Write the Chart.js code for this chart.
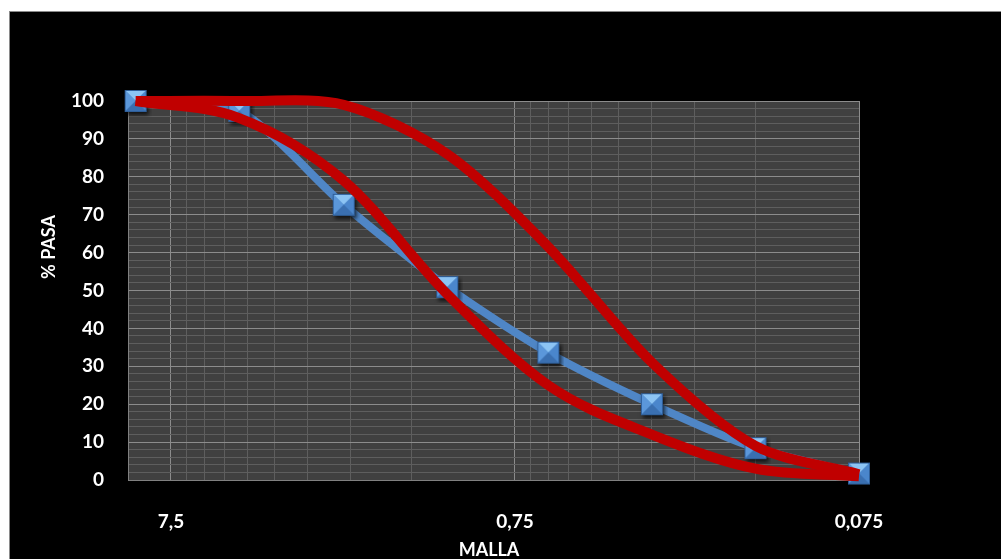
<!DOCTYPE html>
<html>
<head>
<meta charset="utf-8">
<script src="https://cdn.jsdelivr.net/npm/chart.js@4"></script>
<style>
  html, body { margin: 0; padding: 0; background: #fff; }
  #box {
    position: absolute; left: 9px; top: 11px; width: 992px; height: 548px;
    background: #000; border-top: 1px solid #8a8a8a; border-left: 1px solid #8a8a8a;
  }
</style>
</head>
<body>
<div id="box"><canvas id="granulometria" width="992" height="548"></canvas></div>
<script>
// Tamices (mm) y porcentajes que pasan
const mallas = [9.5, 4.75, 2.36, 1.18, 0.6, 0.3, 0.15, 0.075];
const pasa = [100, 97.4, 72.6, 50.9, 33.6, 20.0, 8.4, 1.7];
const limiteSuperior = [100, 100, 99, 86, 61.5, 31, 9, 1.5];
const limiteInferior = [100, 95.5, 79, 49, 25, 12, 3, 1];

// Eje X logarítmico (invertido)
const xMin = 0.075;
const xMax = 10;
const xMajorTicks = [7.5, 0.75, 0.075];
const xTickLabels = ['7,5', '0,75', '0,075'];

const yMin = 0;
const yMax = 100;

const font = 'Lato, "Open Sans", sans-serif';

function isMajorX(v) {
    return xMajorTicks.findIndex(m => Math.abs(v - m) < m * 1e-6);
}

// líneas de la grilla: múltiplos de cada mayor
function xGridValues() {
    const vals = [];
    const bases = xMajorTicks.slice().sort((a, b) => a - b);
    for (const b of bases) {
        for (let k = 1; k <= 9; k++) {
            const v = +(b * k).toFixed(6);
            if (v >= xMin && v <= xMax) vals.push(v);
        }
    }
    return vals;
}

// marcador tipo pirámide
function makeMarker(s) {
    const pad = 5;
    const c = document.createElement('canvas');
    c.width = s + pad * 2; c.height = s + pad * 2;
    const g = c.getContext('2d');
    g.save();
    g.shadowColor = 'rgba(0,0,0,0.7)';
    g.shadowBlur = 4; g.shadowOffsetX = 2; g.shadowOffsetY = 3;
    g.fillStyle = '#3d74b8';
    g.fillRect(pad, pad, s, s);
    g.restore();
    const x0 = pad, y0 = pad, x1 = pad + s, y1 = pad + s, cx = pad + s / 2, cy = pad + s / 2;
    const tri = (pts, col) => {
        g.beginPath(); g.moveTo(pts[0], pts[1]); g.lineTo(pts[2], pts[3]); g.lineTo(cx, cy); g.closePath();
        g.fillStyle = col; g.fill();
    };
    tri([x0, y0, x1, y0], '#8cc4f4');
    tri([x0, y0, x0, y1], '#5b97da');
    tri([x1, y0, x1, y1], '#4a86cc');
    tri([x0, y1, x1, y1], '#3a6fb0');
    g.strokeStyle = '#2f5f9a'; g.lineWidth = 1;
    g.strokeRect(x0 + 0.5, y0 + 0.5, s - 1, s - 1);
    return c;
}

const marker = makeMarker(22);

const plotBackground = {
    id: 'plotBackground',
    beforeDraw(chart) {
        const { ctx, chartArea: a } = chart;
        ctx.save();
        ctx.fillStyle = '#404040';
        ctx.fillRect(a.left, a.top, a.right - a.left, a.bottom - a.top);
        ctx.restore();
    }
};

const axisTitles = {
    id: 'axisTitles',
    afterDraw(chart) {
        const ctx = chart.ctx;
        ctx.save();
        ctx.fillStyle = '#ffffff';
        ctx.font = 'bold 18px ' + font;
        ctx.textAlign = 'center';
        ctx.textBaseline = 'middle';
        ctx.fillText('MALLA', 479, 538);
        ctx.translate(39, 235);
        ctx.rotate(-Math.PI / 2);
        ctx.fillText('% PASA', 0, 0);
        ctx.restore();
    }
};

const toPoints = ys => mallas.map((m, i) => ({ x: m, y: ys[i] }));

new Chart(document.getElementById('granulometria'), {
    type: 'line',
    data: {
        datasets: [
            {
                label: 'Límite superior',
                data: toPoints(limiteSuperior),
                borderColor: '#c00000',
                borderWidth: 10,
                pointRadius: 0,
                tension: 0.3,
                capBezierPoints: false,
                clip: false,
                order: 0
            },
            {
                label: 'Límite inferior',
                data: toPoints(limiteInferior),
                borderColor: '#c00000',
                borderWidth: 10,
                pointRadius: 0,
                cubicInterpolationMode: 'monotone',
                clip: false,
                order: 0
            },
            {
                label: '% Pasa',
                data: toPoints(pasa),
                borderColor: '#4f86c6',
                borderWidth: 8,
                pointStyle: marker,
                pointRadius: 12,
                tension: 0.25,
                capBezierPoints: false,
                clip: false,
                order: 1
            }
        ]
    },
    options: {
        responsive: false,
        animation: false,
        layout: { padding: { left: 0, right: 143, top: 89, bottom: 0 } },
        plugins: {
            legend: { display: false },
            tooltip: { enabled: false }
        },
        scales: {
            x: {
                type: 'logarithmic',
                reverse: true,
                min: xMin,
                max: xMax,
                afterBuildTicks: scale => {
                    scale.ticks = xGridValues().map(v => ({ value: v }));
                },
                afterFit: scale => { scale.height = 80; },
                grid: {
                    color: ctx => (ctx.tick && isMajorX(ctx.tick.value) >= 0) ? '#8c8c8c' : '#5e5e5e',
                    lineWidth: 1,
                    drawTicks: false
                },
                border: { color: '#808080' },
                ticks: {
                    autoSkip: false,
                    maxRotation: 0,
                    padding: 30,
                    color: '#ffffff',
                    font: { family: font, size: 19, weight: 'bold' },
                    callback: value => {
                        const i = isMajorX(value);
                        return i >= 0 ? xTickLabels[i] : '';
                    }
                }
            },
            y: {
                min: yMin,
                max: yMax,
                afterFit: scale => { scale.width = 118; },
                grid: {
                    color: ctx => (ctx.tick && ctx.tick.value % 10 === 0) ? '#8c8c8c' : '#5e5e5e',
                    lineWidth: 1,
                    drawTicks: false
                },
                border: { color: '#808080' },
                ticks: {
                    stepSize: 2,
                    autoSkip: false,
                    padding: 24,
                    color: '#ffffff',
                    font: { family: font, size: 19, weight: 'bold' },
                    callback: value => (value % 10 === 0 ? String(value) : '')
                }
            }
        }
    },
    plugins: [plotBackground, axisTitles]
});
</script>
</body>
</html>
